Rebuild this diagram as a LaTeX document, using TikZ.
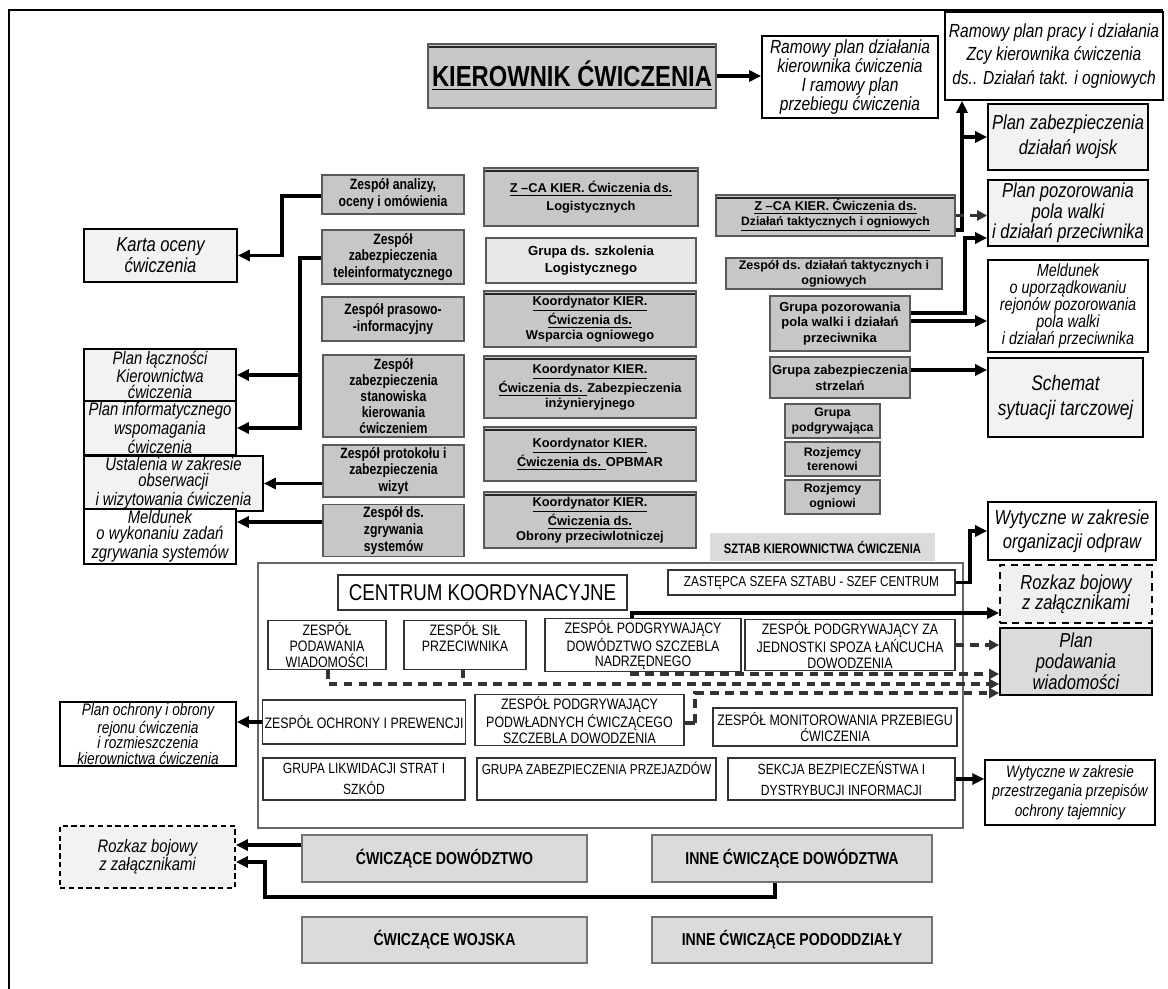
\documentclass[tikz,border=0pt]{standalone}
\usepackage{fontspec}
\setmainfont{Liberation Sans}
\newfontfamily\nf[FakeStretch=0.82]{Liberation Sans}
\usetikzlibrary{arrows.meta}
\newcommand\fsz[2]{\fontsize{#1}{#2}\selectfont}
\newcommand\bxn[7]{\node[#2,minimum width={((#5)-(#3))*0.02cm},minimum height={((#6)-(#4))*0.02cm}] (#1) at ({((#3)+(#5))/2},{((#4)+(#6))/2}) {#7};}
\tikzset{
 gbox/.style={draw=black!65, fill=black!22, line width=0.6pt, inner sep=1pt, align=center, font=\nf\bfseries\fsz{8.5}{9.6}},
 kbox/.style={gbox, font=\bfseries\fsz{7.3}{8.4}},
 topbar/.style={path picture={\draw[line width=1pt,black!85] ([yshift=-1.8pt]path picture bounding box.north west) -- ([yshift=-1.8pt]path picture bounding box.north east);}},
 obox/.style={draw=black, line width=1pt, fill=black!5, inner sep=1pt, align=center, font=\nf\itshape\fsz{10.5}{12}},
 cbox/.style={draw=black!80, line width=0.6pt, fill=white, inner sep=1pt, align=center, font=\nf\fsz{8.6}{9}},
 bbox/.style={draw=black!55, fill=black!14, line width=0.6pt, align=center, font=\nf\bfseries\fsz{9.8}{11}},
 arr/.style={line width=1.8pt, -{Triangle[length=2.4mm,width=2.2mm]}},
 darr/.style={line width=2pt, black!80, dash pattern=on 5pt off 3.5pt, -{Triangle[length=2mm,width=2mm]}},
 dln/.style={line width=2pt, black!80, dash pattern=on 5pt off 3.5pt},
}
\begin{document}
\begin{tikzpicture}[x=0.02cm,y=-0.02cm]
\useasboundingbox (0,0) rectangle (1168,989);
\fill[white] (0,0) rectangle (1168,989);
\draw[line width=1.2pt] (9,989) -- (9,10) -- (1163,10);
% centrum frame
\draw[line width=1.6pt,black!60] (258,563) rectangle (963,828);
\bxn{sztab}{fill=black!14,inner sep=0pt,font=\nf\bfseries\fsz{7.8}{9}}{710}{533}{935}{561}{SZTAB KIEROWNICTWA ĆWICZENIA}

% top
\bxn{kier}{gbox,topbar,font=\nf\bfseries\fsz{16.5}{18}}{428}{44}{716}{108}{\underline{KIEROWNIK ĆWICZENIA}}
\bxn{ram1}{obox,fill=white,font=\nf\itshape\fsz{10.8}{10.8}}{762}{36}{938}{118}{Ramowy plan działania\\kierownika ćwiczenia\\I ramowy plan\\przebiegu ćwiczenia}
\bxn{ram2}{obox,fill=white,font=\nf\itshape\fsz{10.8}{13.4}}{945}{12}{1163}{100}{Ramowy plan pracy i działania\\Zcy kierownika ćwiczenia\\ds.. Działań takt. i ogniowych}

% right outputs
\bxn{planzab}{obox,font=\nf\itshape\fsz{11.5}{14}}{988}{104}{1148}{170}{Plan zabezpieczenia\\działań wojsk}
\bxn{planpoz}{obox,font=\nf\itshape\fsz{11.5}{11.6}}{988}{180}{1148}{246}{Plan pozorowania\\pola walki\\i działań przeciwnika}
\bxn{meld}{obox,fill=white,font=\nf\itshape\fsz{10}{9.7}}{988}{260}{1148}{352}{Meldunek\\o uporządkowaniu\\rejonów pozorowania\\pola walki\\i działań przeciwnika}
\bxn{schemat}{obox,font=\nf\itshape\fsz{12}{14}}{988}{358}{1143}{437}{Schemat\\sytuacji tarczowej}

% right gray
\bxn{zcaT}{kbox,topbar}{716}{195}{955}{236}{\underline{Z –CA KIER. Ćwiczenia ds.}\\\underline{\fsz{6.9}{8.5}Działań taktycznych i ogniowych}}
\bxn{zdt}{kbox,font=\bfseries\fsz{7.1}{8.3}}{726}{258}{942}{289}{Zespół ds. działań taktycznych i\\ogniowych}
\bxn{grpoz}{kbox,font=\bfseries\fsz{7.4}{9}}{770}{296}{910}{351}{Grupa pozorowania\\pola walki i działań\\przeciwnika}
\bxn{grstrz}{kbox,font=\bfseries\fsz{7.4}{9}}{770}{357}{910}{398}{Grupa zabezpieczenia\\strzelań}
\bxn{grpod}{kbox,font=\bfseries\fsz{7}{8.2}}{785}{404}{880}{438}{Grupa\\podgrywająca}
\bxn{roz1}{kbox,font=\bfseries\fsz{7}{8.2}}{785}{442}{880}{476}{Rozjemcy\\terenowi}
\bxn{roz2}{kbox,font=\bfseries\fsz{7}{8.2}}{785}{480}{880}{514}{Rozjemcy\\ogniowi}

% center column
\bxn{zcaL}{kbox,topbar,font=\bfseries\fsz{7.3}{10}}{484}{168}{698}{226}{\underline{Z –CA KIER. Ćwiczenia ds.}\\Logistycznych}
\bxn{grlog}{kbox,fill=black!9,font=\bfseries\fsz{7.5}{10}}{486}{238}{696}{283}{Grupa ds. szkolenia\\Logistycznego}
\bxn{kw}{kbox,topbar}{484}{291}{696}{347}{\underline{Koordynator KIER.}\\\underline{Ćwiczenia ds.}\\Wsparcia ogniowego}
\bxn{ki}{kbox,topbar}{484}{356}{696}{418}{\underline{Koordynator KIER.}\\\underline{Ćwiczenia ds. }Zabezpieczenia\\inżynieryjnego}
\bxn{ko}{kbox,topbar,font=\bfseries\fsz{7.3}{9}}{484}{427}{696}{481}{\underline{Koordynator KIER.}\\\underline{Ćwiczenia ds. }OPBMAR}
\bxn{kp}{kbox,topbar}{484}{492}{696}{548}{\underline{Koordynator KIER.}\\\underline{Ćwiczenia ds.}\\Obrony przeciwlotniczej}

% left gray
\bxn{zanaliz}{gbox}{322}{175}{464}{214}{Zespół analizy,\\oceny i omówienia}
\bxn{ztele}{gbox}{322}{230}{464}{284}{Zespół\\zabezpieczenia\\teleinformatycznego}
\bxn{zpras}{gbox}{322}{297}{464}{341}{Zespół prasowo-\\-informacyjny}
\bxn{zstan}{gbox,font=\nf\bfseries\fsz{8.5}{9.2}}{323}{355}{464}{437}{Zespół\\zabezpieczenia\\stanowiska\\kierowania\\ćwiczeniem}
\bxn{zprot}{gbox}{323}{445}{464}{497}{Zespół protokołu i\\zabezpieczenia\\wizyt}
\bxn{zzgr}{gbox}{323}{506}{464}{555}{Zespół ds.\\zgrywania\\systemów}

% left outputs
\bxn{karta}{obox,font=\nf\itshape\fsz{11.5}{10.5}}{84}{229}{237}{282}{Karta oceny\\ćwiczenia}
\bxn{planlacz}{obox,font=\nf\itshape\fsz{10.3}{9.2}}{84}{350}{236}{400}{Plan łączności\\Kierownictwa\\ćwiczenia}
\bxn{planinf}{obox,font=\nf\itshape\fsz{10.3}{9.2}}{84}{403}{236}{453}{Plan informatycznego\\wspomagania\\ćwiczenia}
\bxn{ustal}{obox,font=\nf\itshape\fsz{10.3}{9.2}}{84}{459}{263}{508}{Ustalenia w zakresie\\obserwacji\\i wizytowania ćwiczenia}
\bxn{meld2}{obox,fill=white,font=\nf\itshape\fsz{10.3}{9.2}}{84}{512}{236}{561}{Meldunek\\o wykonaniu zadań\\zgrywania systemów}
\bxn{planoch}{obox,fill=white,font=\nf\itshape\fsz{9.5}{8.9}}{60}{702}{236}{766}{Plan ochrony i obrony\\rejonu ćwiczenia\\i rozmieszczenia\\kierownictwa ćwiczenia}

% centrum
\bxn{ck}{cbox,font=\nf\fsz{13}{14}}{338}{575}{627}{610}{CENTRUM KOORDYNACYJNE}
\bxn{zast}{cbox,font=\nf\fsz{8.2}{9}}{668}{570}{955}{595}{ZASTĘPCA SZEFA SZTABU - SZEF CENTRUM}
\bxn{zpw}{cbox}{268}{622}{386}{668}{ZESPÓŁ\\PODAWANIA\\WIADOMOŚCI}
\bxn{zsil}{cbox}{404}{622}{526}{668}{ZESPÓŁ SIŁ\\PRZECIWNIKA\\~}
\bxn{zpdn}{cbox}{545}{622}{741}{668}{ZESPÓŁ PODGRYWAJĄCY\\DOWÓDZTWO SZCZEBLA\\NADRZĘDNEGO}
\bxn{zpza}{cbox}{745}{622}{955}{668}{ZESPÓŁ PODGRYWAJĄCY ZA\\JEDNOSTKI SPOZA ŁAŃCUCHA\\DOWODZENIA}
\bxn{zochr}{cbox}{263}{700}{465}{744}{ZESPÓŁ OCHRONY I PREWENCJI}
\bxn{zpodw}{cbox}{475}{696}{684}{744}{ZESPÓŁ PODGRYWAJĄCY\\PODWŁADNYCH ĆWICZĄCEGO\\SZCZEBLA DOWODZENIA}
\bxn{zmon}{cbox}{713}{708}{957}{746}{ZESPÓŁ MONITOROWANIA PRZEBIEGU\\ĆWICZENIA}
\bxn{grlik}{cbox,font=\nf\fsz{8.4}{12}}{263}{758}{465}{800}{GRUPA LIKWIDACJI STRAT I\\SZKÓD}
\bxn{grprz}{cbox,font=\nf\fsz{8.2}{12}}{477}{758}{716}{800}{GRUPA ZABEZPIECZENIA PRZEJAZDÓW\\~}
\bxn{sekcja}{cbox,font=\nf\fsz{8.4}{12}}{728}{758}{955}{800}{SEKCJA BEZPIECZEŃSTWA I\\DYSTRYBUCJI INFORMACJI}

% right of centrum
\bxn{wytorg}{obox,fill=white,font=\nf\itshape\fsz{11.5}{13.5}}{988}{502}{1156}{560}{Wytyczne w zakresie\\organizacji odpraw}
\bxn{rozk}{obox,dashed,dash pattern=on 4pt off 3pt,fill=black!6,font=\nf\itshape\fsz{11.5}{11.5}}{1000}{565}{1152}{623}{Rozkaz bojowy\\z załącznikami}
\bxn{pp}{obox,fill=black!14,font=\nf\itshape\fsz{11.5}{12}}{1000}{628}{1152}{695}{Plan\\podawania\\wiadomości}
\bxn{wyt2}{obox,fill=white,line width=0.8pt,font=\nf\itshape\fsz{9.5}{11}}{985}{760}{1155}{825}{Wytyczne w zakresie\\przestrzegania przepisów\\ochrony tajemnicy}

% bottom
\bxn{rozkL}{obox,fill=black!5,dash pattern=on 3pt off 2pt,font=\nf\itshape\fsz{10.3}{10}}{60}{826}{235}{888}{Rozkaz bojowy\\z załącznikami}
\bxn{cwdow}{bbox}{302}{835}{587}{882}{ĆWICZĄCE DOWÓDZTWO}
\bxn{inne}{bbox}{652}{835}{932}{882}{INNE ĆWICZĄCE DOWÓDZTWA}
\bxn{cwwoj}{bbox}{302}{917}{587}{963}{ĆWICZĄCE WOJSKA}
\bxn{innep}{bbox}{652}{917}{932}{963}{INNE ĆWICZĄCE PODODDZIAŁY}

% coordinates
\coordinate (v1) at (962,230);
\coordinate (v2) at (965,313);
\coordinate (v3) at (965,238);
\coordinate (m1) at (940,321);
\coordinate (s1) at (940,370);
\coordinate (k1) at (282,196);
\coordinate (t1) at (300,258);
\coordinate (z1) at (300,522);
\coordinate (w1) at (970,583);
\coordinate (r1) at (632,613);
\coordinate (d1) at (632,674);
\coordinate (d2) at (328,684);
\coordinate (d3) at (463,684);
\coordinate (d4) at (695,723);
\coordinate (d5) at (695,693);
\coordinate (b1) at (270,845);
\coordinate (b2) at (775,897);
\coordinate (b3) at (265,897);
\coordinate (b4) at (265,862);

% connectors
\draw[arr] (kier.east) -- (kier.east -| ram1.west);
\draw[arr] (zcaT.east |- v1) -- (v1) -- (v1 |- ram2.south);
\draw[arr] (v1 |- planzab.west) -- (planzab.west);
\draw[darr] (zcaT.east) -- (zcaT.east -| planpoz.west);
\draw[arr] (grpoz.east |- v2) -- (v2) -- (v3) -- (v3 -| planpoz.west);
\draw[arr] (grpoz.east |- m1) -- (m1 -| meld.west);
\draw[arr] (grstrz.east |- s1) -- (s1 -| schemat.west);
\draw[arr] (zanaliz.west |- k1) -- (k1) -- (k1 |- karta.east) -- (karta.east);
\draw[arr] (ztele.west |- t1) -- (t1) -- (t1 |- planinf.east) -- (planinf.east);
\draw[arr] (t1 |- planlacz.east) -- (planlacz.east);
\draw[arr] (zprot.west |- ustal.east) -- (ustal.east);
\draw[arr] (zzgr.west |- z1) -- (z1 -| meld2.east);
\draw[arr] (zast.east) -- (zast.east -| w1) -- (w1 |- wytorg.west) -- (wytorg.west);
\draw[arr] (zpdn.north -| r1) -- (r1) -- (r1 -| rozk.west);
\draw[darr] (zpza.east) -- (zpza.east -| pp.west);
\draw[darr] (zpdn.south -| d1) -- (d1) -- (d1 -| pp.west);
\draw[darr] (zpw.south -| d2) -- (d2) -- (d2 -| pp.west);
\draw[dln] (zsil.south -| d3) -- (d3);
\draw[line width=2pt,black!80] (zpodw.east |- d4) -- (d4);
\draw[darr] (d4) -- (d5) -- (d5 -| pp.west);
\draw[arr] (sekcja.east) -- (sekcja.east -| wyt2.west);
\draw[arr] (zochr.west) -- (zochr.west -| planoch.east);
\draw[arr] (cwdow.west |- b1) -- (b1 -| rozkL.east);
\draw[arr] (inne.south -| b2) -- (b2) -- (b3) -- (b4) -- (b4 -| rozkL.east);
\end{tikzpicture}
\end{document}
